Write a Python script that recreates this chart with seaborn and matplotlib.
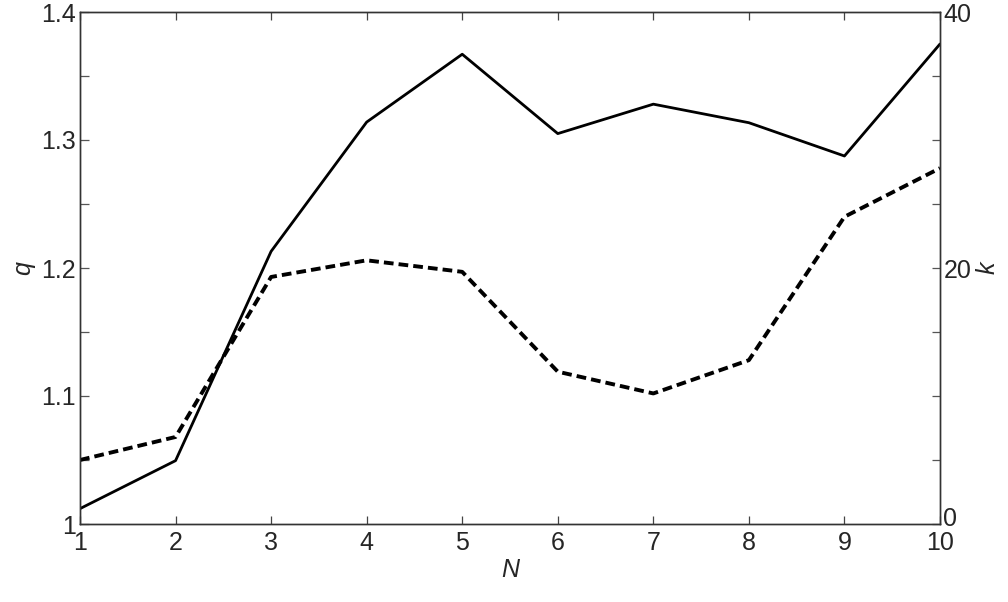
import numpy as np
import pandas as pd
import seaborn as sns
import matplotlib
matplotlib.use('Agg')
import matplotlib.pyplot as plt
import matplotlib.transforms as mtransforms
from matplotlib.ticker import MultipleLocator, FixedLocator, FixedFormatter

# data
N = [1, 2, 3, 4, 5, 6, 7, 8, 9, 10]
q = [1.012, 1.0495, 1.213, 1.314, 1.367, 1.305, 1.328, 1.3135, 1.2875, 1.375]
k = [5.0, 6.8, 19.3, 20.6, 19.7, 11.9, 10.2, 12.8, 24.0, 27.8]

q_ticks = [1.0, 1.1, 1.2, 1.3, 1.4]
q_labels = ['1', '1.1', '1.2', '1.3', '1.4']
k_ticks = [0, 20, 40]
k_labels = ['0', '20', '40']

sns.set_style('white')
plt.rcParams['font.family'] = ['Liberation Sans', 'DejaVu Sans']

df = pd.DataFrame({'N': N, 'q': q, 'k': k})

fig = plt.figure(figsize=(10.08, 6.02), dpi=100)
ax = fig.add_axes([80 / 1008, 1 - 524 / 602, 860 / 1008, 512 / 602])
ax2 = ax.twinx()

sns.lineplot(data=df, x='N', y='q', ax=ax, color='black', lw=2.0)
sns.lineplot(data=df, x='N', y='k', ax=ax2, color='black', lw=2.8,
             linestyle=(0, (2.5, 1.3)))

ax.set_xlim(1, 10)
ax.set_ylim(1, 1.4)
ax2.set_ylim(0, 40)

ax.xaxis.set_major_locator(FixedLocator(N))
ax.yaxis.set_major_locator(FixedLocator(q_ticks))
ax.yaxis.set_major_formatter(FixedFormatter(q_labels))
ax.yaxis.set_minor_locator(MultipleLocator(0.05))
ax2.yaxis.set_major_locator(FixedLocator(k_ticks))
ax2.yaxis.set_major_formatter(FixedFormatter(k_labels))
ax2.yaxis.set_minor_locator(MultipleLocator(5))

fs = 18
ax.tick_params(axis='x', which='both', direction='in', length=6, width=0.9,
               color='#444444', top=True, bottom=True, labelsize=fs, pad=5)
ax.tick_params(axis='y', which='both', direction='in', length=6.5, width=0.9,
               color='#555555', left=True, right=False, labelsize=fs, pad=3)
ax2.tick_params(axis='y', which='both', direction='in', length=6, width=0.9,
                color='#555555', left=False, right=True, labelsize=fs, pad=2.5)

for a in (ax, ax2):
    for s in a.spines.values():
        s.set_color('#333333')
        s.set_linewidth(1.0)
        s.set_visible(True)

# the "0" on the right axis sits a little above its tick, like the reference
fig.canvas.draw()
lab0 = ax2.yaxis.get_major_ticks()[0].label2
lab0.set_transform(lab0.get_transform() +
                   mtransforms.ScaledTranslation(0, 8 / 100, fig.dpi_scale_trans))

ax.set_xlabel('N', fontsize=fs, style='italic', labelpad=2)
ax.set_ylabel('q', fontsize=fs, style='italic', labelpad=4)
ax2.set_ylabel('k', fontsize=fs, style='italic', rotation=90, labelpad=3)

fig.savefig('out.png', dpi=100)
